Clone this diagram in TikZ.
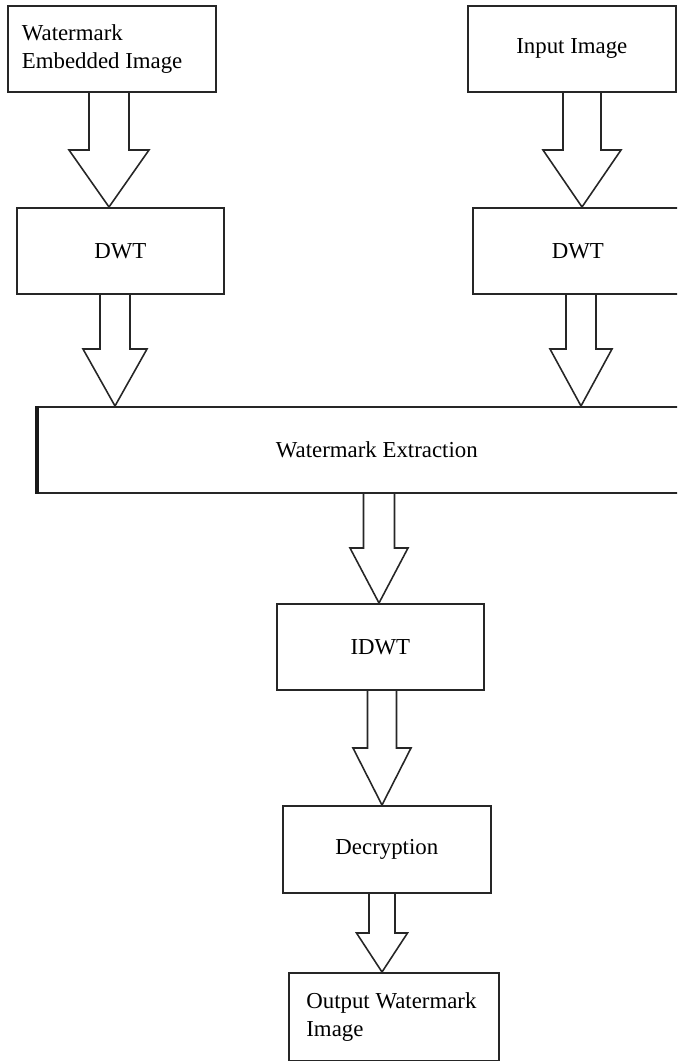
\documentclass[tikz,border=0pt]{standalone}
\usepackage{fontspec}
\setmainfont{Liberation Serif}
\usetikzlibrary{calc}

\newcommand\blockarrow[6]{%
  \coordinate (ba-t) at (#1,0 |- #2.south);
  \coordinate (ba-h) at (#1,0 |- #3.north);
  \draw[blockarr] ($(ba-t)+(-#4,0)$) -- ($(ba-h)+(-#4,-#6)$) -- ($(ba-h)+(-#5,-#6)$) -- (ba-h)
    -- ($(ba-h)+(#5,-#6)$) -- ($(ba-h)+(#4,-#6)$) -- ($(ba-t)+(#4,0)$);
}

\begin{document}
\begin{tikzpicture}[x=0.02cm, y=-0.02cm, line join=miter,
    stagebox/.style={draw=black!85, line width=1pt, anchor=north west, inner sep=2pt,
      minimum height=1.72cm, font=\fontsize{13}{16}\selectfont},
    blockarr/.style={draw=black!85, line width=0.9pt}]
  \path[use as bounding box, clip] (0,0) rectangle (677,1061);

  \node[stagebox, minimum width=4.16cm, text width=3.6cm, align=flush left] (wei) at (7,5) {Watermark\\Embedded Image};
  \node[stagebox, minimum width=4.16cm] (inp) at (467,5) {Input Image};
  \node[stagebox, minimum width=4.14cm] (dwtA) at (16,207) {DWT};
  \node[stagebox, minimum width=4.2cm] (dwtB) at (472,207) {DWT};
  \node[stagebox, minimum width=13.56cm] (ext) at (37,406) {Watermark Extraction};
  \draw[line width=2.4pt, black!90] (ext.north west) -- (ext.south west);
  \node[stagebox, minimum width=4.14cm] (idwt) at (276,603) {IDWT};
  \node[stagebox, minimum width=4.16cm, minimum height=1.74cm] (dec) at (282,805) {Decryption};
  \node[stagebox, minimum width=4.2cm, minimum height=1.76cm, text width=3.5cm, align=flush left] (out) at (288,972) {Output Watermark\\Image};

  \blockarrow{109}{wei}{dwtA}{20}{40}{57}
  \blockarrow{582}{inp}{dwtB}{19}{39}{57}
  \blockarrow{115}{dwtA}{ext}{15}{32}{57}
  \blockarrow{581}{dwtB}{ext}{15}{31}{57}
  \blockarrow{379}{ext}{idwt}{15.5}{29}{55}
  \blockarrow{382}{idwt}{dec}{14.5}{29}{57}
  \blockarrow{382}{dec}{out}{13}{25.5}{39}
\end{tikzpicture}
\end{document}
